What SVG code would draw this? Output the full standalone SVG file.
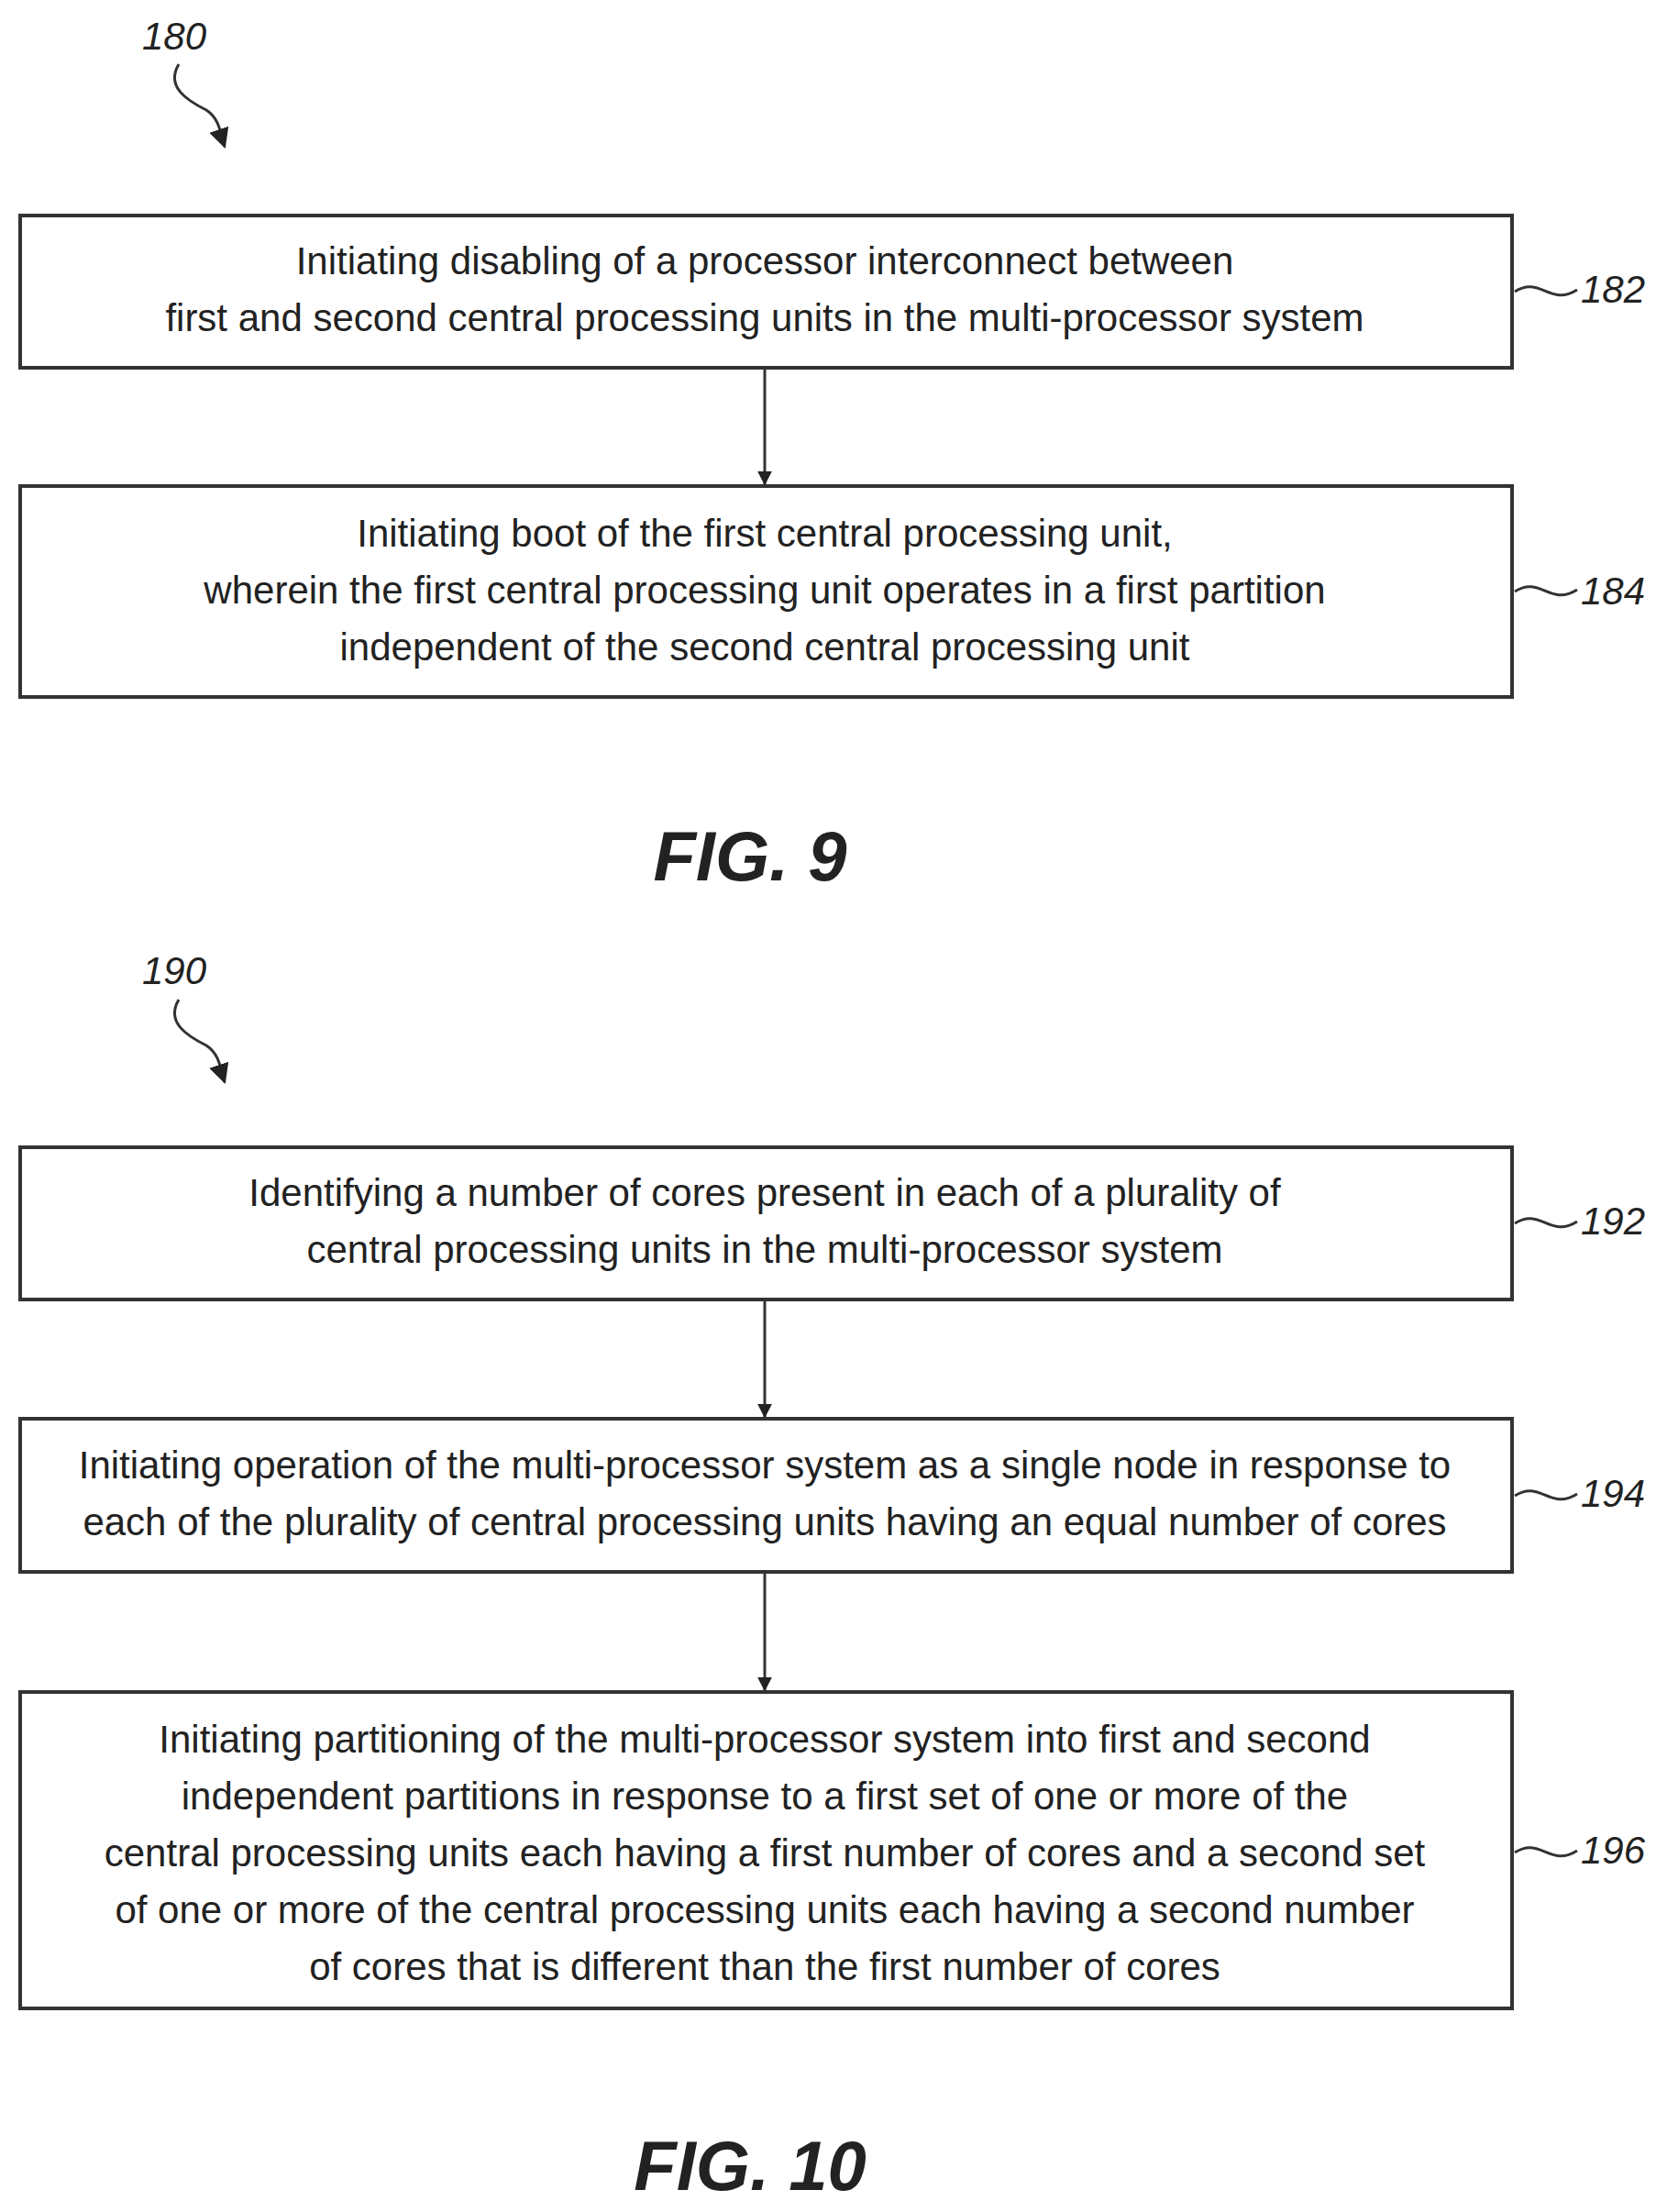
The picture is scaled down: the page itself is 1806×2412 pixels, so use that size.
<svg xmlns="http://www.w3.org/2000/svg" width="1806" height="2412" viewBox="0 0 1806 2412">
<defs>
<marker id="ah" viewBox="0 0 10 10" refX="9" refY="5" markerWidth="16" markerHeight="16" markerUnits="userSpaceOnUse" orient="auto"><path d="M0,0 L10,5 L0,10 z" fill="#222"/></marker>
<marker id="ah2" viewBox="0 0 10 10" refX="9" refY="5" markerWidth="22" markerHeight="22" markerUnits="userSpaceOnUse" orient="auto"><path d="M0,0 L10,5 L0,10 z" fill="#222"/></marker>
</defs>
<style>
.box{fill:#fff;stroke:#333;stroke-width:4}
.t{font-family:"Liberation Sans",Arial,sans-serif;font-size:42px;fill:#222;text-anchor:middle}
.ref{font-family:"Liberation Sans",Arial,sans-serif;font-size:42px;font-style:italic;fill:#222}
.fig{font-family:"Liberation Sans",Arial,sans-serif;font-size:76px;font-style:italic;font-weight:bold;fill:#222;text-anchor:middle}
.c{fill:none;stroke:#333;stroke-width:3}
</style>
<rect width="1806" height="2412" fill="#fff"/>
<text class="ref" x="155" y="54">180</text>
<path class="c" d="M195,70 C180,95 205,110 225,120 C240,130 240,145 245,160" marker-end="url(#ah2)"/>
<text class="ref" x="155" y="1073">190</text>
<path class="c" d="M195,1090 C180,1115 205,1130 225,1140 C240,1150 240,1165 245,1180" marker-end="url(#ah2)"/>
<g id="connectors">
<line class="c" x1="834" y1="401" x2="834" y2="528" marker-end="url(#ah)"/>
<line class="c" x1="834" y1="1417" x2="834" y2="1545" marker-end="url(#ah)"/>
<line class="c" x1="834" y1="1714" x2="834" y2="1843" marker-end="url(#ah)"/>
<path class="c" d="M1652,318 C1680,300 1690,335 1720,316"/>
<path class="c" d="M1652,645 C1680,627 1690,662 1720,643"/>
<path class="c" d="M1652,1334 C1680,1316 1690,1351 1720,1332"/>
<path class="c" d="M1652,1631 C1680,1613 1690,1648 1720,1629"/>
<path class="c" d="M1652,2020 C1680,2002 1690,2037 1720,2018"/>
</g>
<g id="n182"><rect class="box" x="22" y="235" width="1627" height="166"/>
<text class="t" x="834" y="299">Initiating disabling of a processor interconnect between</text>
<text class="t" x="834" y="361">first and second central processing units in the multi-processor system</text>
<text class="ref" x="1724" y="330">182</text></g>
<g id="n184"><rect class="box" x="22" y="530" width="1627" height="230"/>
<text class="t" x="834" y="596">Initiating boot of the first central processing unit,</text>
<text class="t" x="834" y="658">wherein the first central processing unit operates in a first partition</text>
<text class="t" x="834" y="720">independent of the second central processing unit</text>
<text class="ref" x="1724" y="659">184</text></g>
<text class="fig" x="818" y="960">FIG. 9</text>
<g id="n192"><rect class="box" x="22" y="1251" width="1627" height="166"/>
<text class="t" x="834" y="1315">Identifying a number of cores present in each of a plurality of</text>
<text class="t" x="834" y="1377">central processing units in the multi-processor system</text>
<text class="ref" x="1724" y="1346">192</text></g>
<g id="n194"><rect class="box" x="22" y="1547" width="1627" height="167"/>
<text class="t" x="834" y="1612">Initiating operation of the multi-processor system as a single node in response to</text>
<text class="t" x="834" y="1674">each of the plurality of central processing units having an equal number of cores</text>
<text class="ref" x="1724" y="1643">194</text></g>
<g id="n196"><rect class="box" x="22" y="1845" width="1627" height="345"/>
<text class="t" x="834" y="1911">Initiating partitioning of the multi-processor system into first and second</text>
<text class="t" x="834" y="1973">independent partitions in response to a first set of one or more of the</text>
<text class="t" x="834" y="2035">central processing units each having a first number of cores and a second set</text>
<text class="t" x="834" y="2097">of one or more of the central processing units each having a second number</text>
<text class="t" x="834" y="2159">of cores that is different than the first number of cores</text>
<text class="ref" x="1724" y="2032">196</text></g>
<text class="fig" x="818" y="2388">FIG. 10</text>
</svg>
